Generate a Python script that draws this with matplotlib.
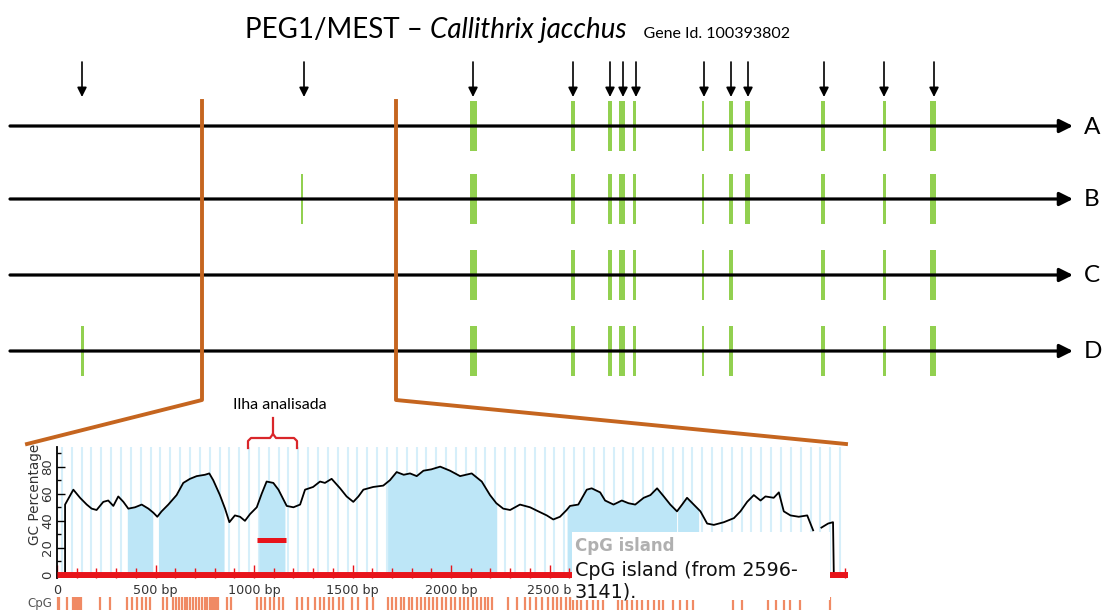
import numpy as np
import matplotlib.pyplot as plt
from matplotlib.patches import Rectangle
from matplotlib.ticker import MultipleLocator

W, H = 1105, 612

# diagrama dos transcritos (coordenadas em pixels do esquema)
row_names = ['A', 'B', 'C', 'D']
row_y = [126, 199, 275, 351]
exon_x = [473, 573, 610, 622, 634, 703, 731, 747, 823, 884, 933]
exon_w = [7, 3.5, 4, 6, 3, 1.5, 4, 5, 4, 3, 5.5]
exon_missing = {'C': [747], 'D': [747]}
exon_extra = {'B': [(302, 1.3)], 'D': [(82, 3)]}
arrow_x = [82, 304, 473, 573, 610, 623, 636, 704, 731, 748, 824, 884, 934]

# perfil de GC (bp, %)
nan = np.nan
gc_bp = [41, 41, 83, 117, 151, 176, 201, 235, 260, 286, 311, 337, 362, 396, 430, 464, 489, 509, 531, 565,
         607, 641, 675, 709, 751, 773, 793, 827, 853, 875, 903, 929, 954, 980, 1014, 1039, 1064, 1098, 1124, 1166,
         1200, 1234, 1259, 1300, 1335, 1360, 1394, 1437, 1470, 1504, 1530, 1555, 1605, 1656, 1690, 1724, 1760, 1792, 1826, 1860,
         1900, 1945, 1995, 2046, 2105, 2156, 2198, 2230, 2265, 2300, 2350, 2401, 2443, 2486, 2519, 2553, 2587, 2604, 2646, 2689,
         2714, 2757, 2782, 2825, 2867, 2901, 2935, 2978, 3012, 3046, 3080, 3113, 3147, 3173, 3198, 3232, 3266, 3300, 3334, 3385,
         3436, 3469, 3503, 3537, 3571, 3596, 3638, 3664, 3689, 3723, 3765, 3808, 3838, 3860, 3880, 3914, 3939, 3943]
gc_pct = [0, 52, 63, 57, 52, 49, 48, 54, 55, 51, 58, 54, 49, 50, 52, 49, 46, 43, 47, 52,
          59, 68, 71, 73, 74, 75, 70, 59, 49, 39, 44, 43, 40, 45, 50, 60, 69, 68, 63, 51,
          50, 52, 63, 65, 69, 68, 71, 64, 58, 54, 58, 63, 65, 66, 70, 76, 74, 75, 73, 77,
          78, 80, 77, 73, 75, 69, 59, 53, 49, 48, 52, 50, 47, 44, 41, 43, 48, 51, 52, 63,
          64, 61, 55, 52, 55, 53, 52, 57, 59, 64, 58, 52, 47, 52, 57, 52, 47, 38, 37, 39,
          42, 47, 54, 59, 55, 58, 57, 61, 47, 44, 43, 44, 33, nan, 35, 38, 39, 0]
shade_ranges = [(357, 486), (515, 848), (1025, 1157), (1678, 2232), (2589, 3145), (3150, 3257)]
island_bar = (1017, 1162, 25.8)
cpg_sites = [5, 12, 51, 81, 90, 100, 110, 120, 218, 269, 355, 381, 406, 431, 452, 472, 538, 558,
             589, 604, 619, 634, 650, 660, 675, 690, 706, 721, 736, 751, 761, 777, 785, 793, 801, 809, 817, 863, 883,
             1015, 1035, 1055, 1080, 1100, 1125, 1147, 1218, 1244, 1274, 1310, 1335, 1355, 1380, 1400, 1430, 1452,
             1497, 1528, 1574, 1604,
             1680, 1700, 1722, 1745, 1760, 1785, 1800, 1825, 1850, 1866, 1890, 1910, 1930, 1955, 1975, 2000, 2020,
             2045, 2065, 2085, 2110, 2130, 2150, 2170, 2190, 2208,
             2289, 2335, 2376, 2400, 2430, 2460, 2490, 2518, 2538, 2560, 2585, 2604,
             2620, 2640, 2660, 2690, 2720, 2745, 2772, 2848, 2870, 2895, 2920, 2945, 2970, 3000, 3030, 3055, 3076,
             3127, 3160, 3200, 3228, 3431, 3477, 3609, 3650, 3690, 3721, 3772, 3924]
xtick_bp = [0, 500, 1000, 1500, 2000, 2500, 3000, 3500]
xtick_lab = ['0', '500 bp', '1000 bp', '1500 bp', '2000 bp', '2500 b', '', '']

green = '#92d050'
orange = '#c5651f'
red = '#e8141b'
top_font = ['Lato', 'DejaVu Sans']

fig = plt.figure(figsize=(W / 100, H / 100), dpi=100)

# ---- grafico de GC ----
gx = fig.add_axes([57 / W, (H - 578) / H, 791 / W, 131 / H], zorder=1)
gx.set_xlim(0, 4015)
gx.set_ylim(-2.2, 94.5)
gx.vlines(np.arange(25, 4015, 50), -2.2, 94.5, color='#d6effa', lw=1.5, zorder=0)

gb = np.array(gc_bp, dtype=float)
gp = np.array(gc_pct, dtype=float)
for a, b in shade_ranges:
    m = (gb > a) & (gb < b)
    xs = np.concatenate([[a], gb[m], [b]])
    ys = np.concatenate([[np.interp(a, gb, gp)], gp[m], [np.interp(b, gb, gp)]])
    gx.fill_between(xs, 0, ys, color='#bde6f7', lw=0, zorder=1)

gx.plot(gb, gp, color='black', lw=1.3, zorder=3)
gx.hlines(0, 0, 4015, color=red, lw=5, zorder=4)
gx.hlines(island_bar[2], island_bar[0], island_bar[1], color=red, lw=3.6, zorder=4)

for s in ['top', 'right', 'bottom']:
    gx.spines[s].set_visible(False)
gx.spines['left'].set_linewidth(1.3)
gx.set_yticks([0, 20, 40, 60, 80])
gx.yaxis.set_minor_locator(MultipleLocator(10))
gx.tick_params(axis='y', which='major', direction='in', length=6, width=1, pad=2,
               labelsize=9.5, labelcolor='#333333')
gx.tick_params(axis='y', which='minor', direction='in', length=3, width=1)
plt.setp(gx.get_yticklabels(), rotation=90, va='center', ha='right')
gx.set_xticks(xtick_bp)
gx.set_xticklabels(xtick_lab)
gx.xaxis.set_minor_locator(MultipleLocator(100))
gx.tick_params(axis='x', which='major', direction='in', length=9.4, width=1, color=red, pad=4,
               labelsize=9.2, labelcolor='#333333')
gx.tick_params(axis='x', which='minor', direction='in', length=7.2, width=1, color=red)
gx.set_ylabel('GC Percentage', fontsize=9.8, color='#333333')
gx.yaxis.set_label_coords(-0.019, 0.64)

gx.vlines(cpg_sites, -16, -25.5, colors='#f08a64', lw=1.6, clip_on=False, zorder=2)
gx.text(-22, -20.8, 'CpG', ha='right', va='center', fontsize=8.5, color='#555555', clip_on=False)

# ---- esquema superior (em pixels) ----
ax = fig.add_axes([0, 0, 1, 1], zorder=3)
ax.set_xlim(0, W)
ax.set_ylim(H, 0)
ax.axis('off')
ax.patch.set_alpha(0)

for name, y in zip(row_names, row_y):
    xs = [x for x in exon_x if x not in exon_missing.get(name, [])]
    ws = [w for x, w in zip(exon_x, exon_w) if x not in exon_missing.get(name, [])]
    for ex, ew in exon_extra.get(name, []):
        xs.append(ex)
        ws.append(ew)
    ax.bar(xs, 50, width=ws, bottom=y - 25, color=green, lw=0, zorder=2)
    ax.annotate('', xy=(1073, y), xytext=(10, y),
                arrowprops=dict(arrowstyle='-|>', color='black', lw=2.3, mutation_scale=20,
                                shrinkA=0, shrinkB=0), zorder=3)
    ax.text(1084, y + 1, name, ha='left', va='center', fontsize=17.5, family=top_font)

for x in arrow_x:
    ax.annotate('', xy=(x, 97), xytext=(x, 62),
                arrowprops=dict(arrowstyle='-|>', color='black', lw=1.2, mutation_scale=14,
                                shrinkA=0, shrinkB=0))

ax.plot([202, 202, 27], [101, 400, 444], color=orange, lw=2.8, zorder=4)
ax.plot([396, 396, 846], [101, 400, 444], color=orange, lw=2.8, zorder=4)

# titulo
fig.canvas.draw()
r = fig.canvas.get_renderer()
x0 = 245
for txt, kw in [('PEG1/MEST – ', dict(fontsize=20)),
                ('Callithrix jacchus', dict(fontsize=20, style='italic')),
                ('    Gene Id. 100393802', dict(fontsize=11.5))]:
    t = ax.text(x0, 38, txt, ha='left', va='baseline', family=top_font, **kw)
    x0 = t.get_window_extent(renderer=r).x1

# ilha analisada
ax.text(280, 405, 'Ilha analisada', ha='center', va='center', fontsize=11.5, family=top_font)
ax.plot([248, 248, 251, 270, 273, 273], [448, 441, 438, 438, 434, 418], color='#d9262a', lw=1.6)
ax.plot([273, 276, 294, 297, 297], [434, 438, 438, 441, 448], color='#d9262a', lw=1.6)

# caixa de tooltip
ax.add_patch(Rectangle((572, 532), 258, 68, facecolor='white', edgecolor='none', zorder=5))
ax.text(575, 546, 'CpG island', fontsize=12, weight='bold', color='#b0b0b0', va='center', zorder=6)
ax.text(575, 571, 'CpG island (from 2596-', fontsize=13.8, color='#111111', va='center', zorder=6)
ax.text(575, 592, '3141).', fontsize=13.8, color='#111111', va='center', zorder=6)

fig.savefig('out.png', dpi=100)
